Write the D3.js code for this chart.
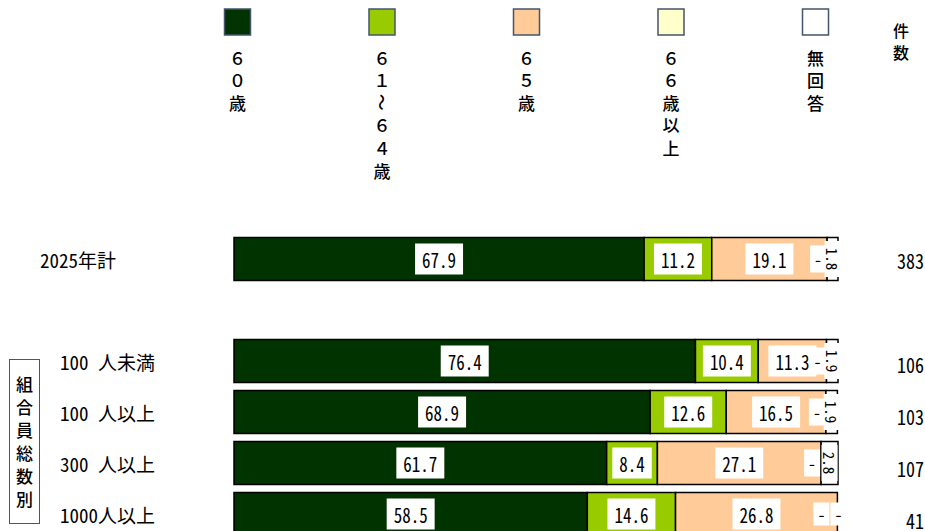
<!doctype html>
<html lang="ja">
  <head>
    <meta charset="utf-8">
    <title>年齢別 構成比</title>
    <script src="https://d3js.org/d3.v7.min.js"></script>
    <style>
      body { margin: 0; background: #fff; }
      text { font-family: "Noto Sans Mono CJK JP", "Noto Sans CJK JP", sans-serif; fill: #000; }
    </style>
  </head>
  <body>
    <div id="holder"></div>
  <script>
      // data
      const categories = ['2025年計', '100 人未満', '100 人以上', '300 人以上', '1000人以上'];
      const series = ['６０歳', '６１〜６４歳', '６５歳', '６６歳以上', '無回答'];
      const v60 = [67.9, 76.4, 68.9, 61.7, 58.5];
      const v61 = [11.2, 10.4, 12.6, 8.4, 14.6];
      const v65 = [19.1, 11.3, 16.5, 27.1, 26.8];
      const v66 = [0, 0, 0, 0, 0];
      const vNA = [1.8, 1.9, 1.9, 2.8, 0];
      const counts = [383, 106, 103, 107, 41];
      const groupLabel = '組合員総数別';

      const colors = ['#003300', '#99cc00', '#ffcc99', '#ffffcc', '#ffffff'];
      const w = 925, h = 531;

      const rows = categories.map(function(c, i) {
        return { cat: c, vals: [v60[i], v61[i], v65[i], v66[i], vNA[i]], n: counts[i] };
      });

      const svg = d3.select('#holder').append('svg')
        .attr('width', w).attr('height', h);

      const x = d3.scaleLinear().domain([0, 100]).range([234, 838]);
      // spacer row between total and the breakdown
      const yDomain = [categories[0], 'gap'].concat(categories.slice(1));
      const y = d3.scaleBand().domain(yDomain).range([233.5, 233.5 + 51 * yDomain.length])
        .paddingInner(0.157).paddingOuter(0.0785);
      // count column sits on a slightly wider pitch
      const yCount = d3.scaleBand().domain(yDomain).range([234, 234 + 52 * yDomain.length]);

      /* LEGEND */
      const legendX = function(i) { return 237.5 + i * 144.5; };
      const legend = svg.append('g').attr('class', 'legend');
      series.forEach(function(s, i) {
        const cx = legendX(i);
        legend.append('rect')
          .attr('x', cx - 13).attr('y', 9).attr('width', 26).attr('height', 26)
          .attr('fill', colors[i]).attr('stroke', '#44546a').attr('stroke-width', 1.5);
        Array.from(s).forEach(function(ch, j) {
          const cy = 57 + j * 22.6;
          const t = legend.append('text')
            .text(ch)
            .attr('x', cx).attr('y', cy)
            .attr('text-anchor', 'middle')
            .attr('dominant-baseline', 'central')
            .style('font-family', '"Noto Sans CJK JP", sans-serif')
            .style('font-weight', 500)
            .style('font-size', '17px');
          if (ch === '〜') t.attr('transform', 'rotate(90,' + cx + ',' + cy + ')');
        });
      });
      ['件', '数'].forEach(function(ch, j) {
        svg.append('text').text(ch)
          .attr('x', 901).attr('y', 30 + j * 22)
          .attr('text-anchor', 'middle').attr('dominant-baseline', 'central')
          .style('font-family', '"Noto Sans CJK JP", sans-serif')
          .style('font-weight', 500)
          .style('font-size', '16px');
      });

      /* BARS */
      const bars = svg.append('g').attr('class', 'bars');
      rows.forEach(function(r, ri) {
        let cum = 0;
        const segs = r.vals.map(function(v, k) {
          const s = { k: k, v: v, x0: cum, x1: cum + v };
          cum += v;
          return s;
        });
        const g = bars.append('g').attr('transform', 'translate(0,' + y(r.cat) + ')');
        const bh = y.bandwidth();
        g.selectAll('rect.seg')
          .data(segs.filter(function(s) { return s.v > 0; }))
          .enter().append('rect')
          .attr('class', 'seg')
          .attr('x', function(s) { return x(s.x0); })
          .attr('width', function(s) { return x(s.x1) - x(s.x0); })
          .attr('y', 0).attr('height', bh)
          .attr('fill', function(s) { return colors[s.k]; })
          .attr('stroke', '#000').attr('stroke-width', 1.5);

        // value labels
        segs.forEach(function(s) {
          const mid = bh / 2;
          if (s.v === 0) {
            // zero shown as a dash near the segment boundary
            let cx;
            if (s.k === 4) cx = x(s.x0) + 1;
            else cx = segs[4].v === 0 ? x(s.x0) - 16 : x(s.x0) - 9;
            const bhgt = segs[4].v === 0 ? 23 : 27;
            g.append('rect').attr('x', cx - 8).attr('y', mid - bhgt / 2)
              .attr('width', 16).attr('height', bhgt).attr('fill', '#fff');
            g.append('text').text('-')
              .attr('x', cx).attr('y', mid)
              .attr('text-anchor', 'middle').attr('dominant-baseline', 'central')
              .style('font-size', '16px');
          } else if (s.k === 4) {
            const cx = (x(s.x0) + x(s.x1)) / 2;
            g.append('rect').attr('x', cx - 8).attr('y', mid - 18)
              .attr('width', 16).attr('height', 36).attr('fill', '#fff');
            g.append('text').text(s.v.toFixed(1))
              .attr('transform', 'translate(' + cx + ',' + mid + ') rotate(90)')
              .attr('text-anchor', 'middle').attr('dominant-baseline', 'central')
              .style('font-size', '15px');
          } else {
            const cx = (x(s.x0) + x(s.x1)) / 2;
            const box = g.append('rect').attr('fill', '#fff');
            const t = g.append('text').text(s.v.toFixed(1))
              .attr('transform', 'translate(' + cx + ',' + mid + ') scale(0.85,1)')
              .attr('text-anchor', 'middle').attr('dominant-baseline', 'central')
              .style('font-size', '20px');
            const tw = t.node().getComputedTextLength() * 0.85;
            box.attr('x', cx - tw / 2 - 7).attr('y', mid - 15.5)
              .attr('width', tw + 14).attr('height', 31);
          }
        });

        // category and count
        svg.append('text').text(r.cat)
          .attr('x', ri === 0 ? 40 : 60).attr('y', y(r.cat) + bh / 2)
          .attr('dominant-baseline', 'central')
          .style('white-space', 'pre')
          .style('font-size', '19px');
        svg.append('text').text(r.n)
          .attr('x', 924).attr('y', yCount(r.cat) + yCount.bandwidth() / 2)
          .attr('text-anchor', 'end').attr('dominant-baseline', 'central')
          .attr('transform', 'translate(' + 924 * 0.1 + ',0) scale(0.9,1)')
          .style('font-size', '20px');
      });

      /* GROUP BOX */
      svg.append('rect')
        .attr('x', 9.5).attr('y', 359.5).attr('width', 30).attr('height', 164)
        .attr('fill', '#fff').attr('stroke', '#555').attr('stroke-width', 1);
      Array.from(groupLabel).forEach(function(ch, j) {
        svg.append('text').text(ch)
          .attr('x', 24.5).attr('y', 383 + j * 23)
          .attr('text-anchor', 'middle').attr('dominant-baseline', 'central')
          .style('font-family', '"Noto Sans CJK JP", sans-serif')
          .style('font-weight', 500)
          .style('font-size', '17px');
      });
  </script>
  </body>
</html>
